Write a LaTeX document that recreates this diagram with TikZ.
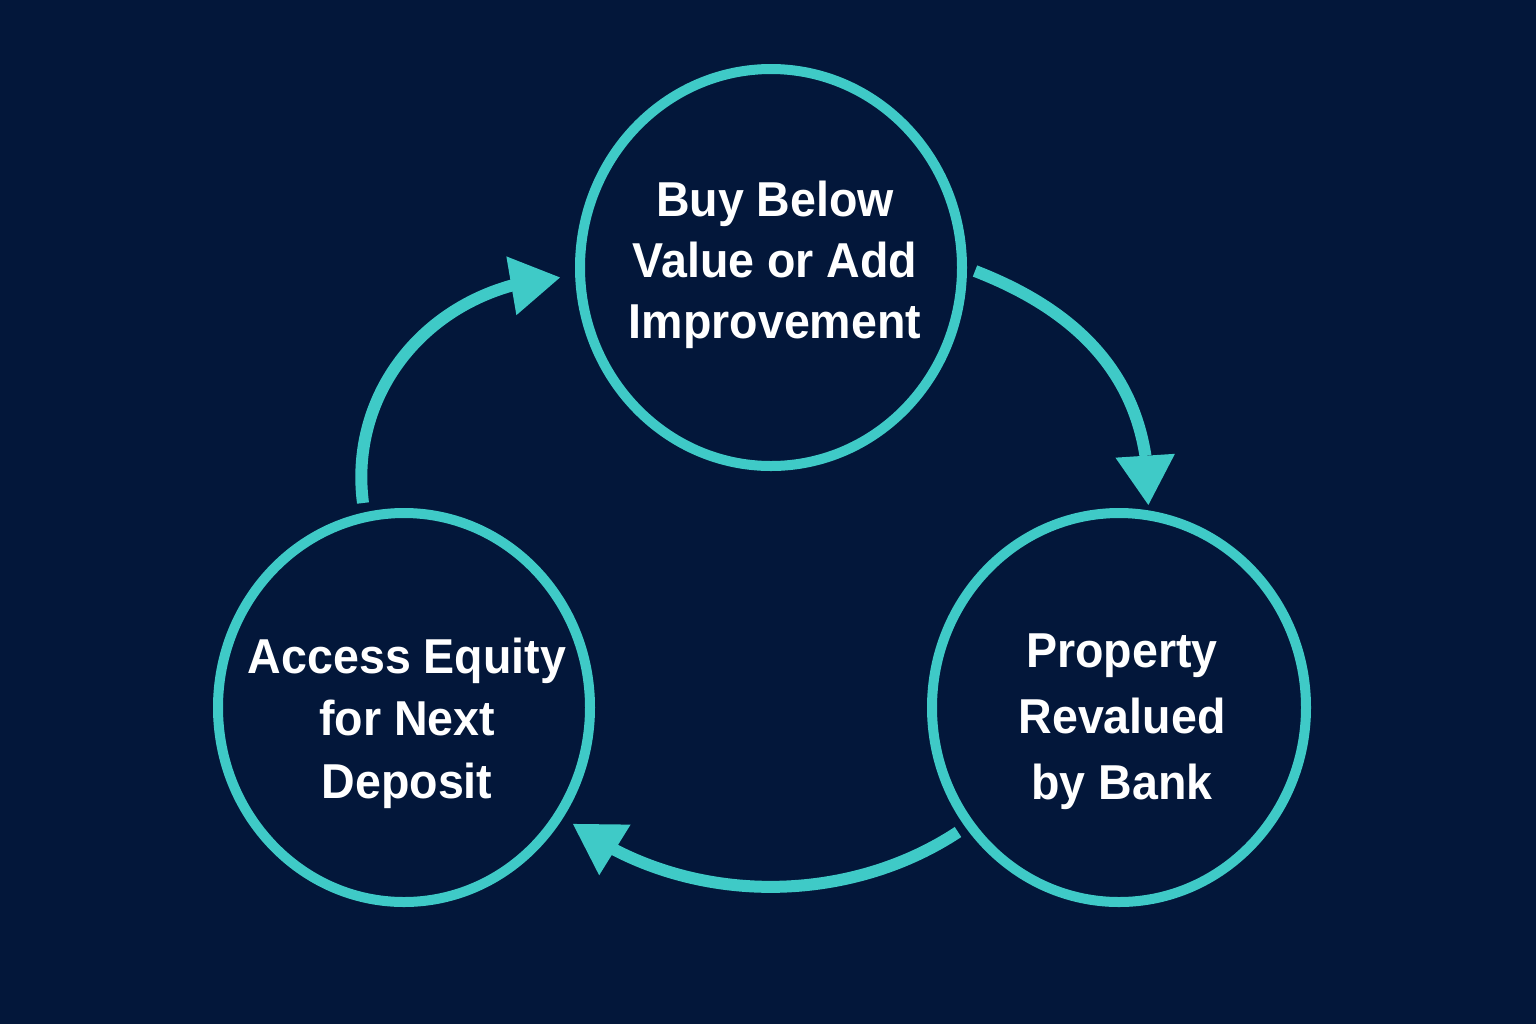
\documentclass[tikz,border=0pt]{standalone}
\usepackage{fontspec}
\setmainfont{Liberation Sans}[FakeStretch=0.95]
\usetikzlibrary{arrows.meta,bending,shapes.geometric,calc}
\definecolor{bgc}{HTML}{03173A}
\definecolor{tealc}{HTML}{3FCAC7}
\begin{document}
\begin{tikzpicture}[x=0.5pt,y=-0.5pt,
  ring/.style={ellipse, draw=tealc, line width=5pt, inner sep=0pt, outer sep=0pt},
  lbl/.style={text=white, align=center, inner sep=0pt},
  flow/.style={draw=tealc, line width=6pt, shorten >=-25pt, -{Triangle[length=25pt,width=28pt]}}]
\fill[bgc] (0,0) rectangle (1536,1024);
\useasboundingbox (0,0) rectangle (1536,1024);
\node[ring, minimum width=191pt, minimum height=198.5pt] (top) at (771,267.5) {};
\node[ring, minimum width=186pt, minimum height=194.5pt] (left) at (404,707.5) {};
\node[ring, minimum width=187pt, minimum height=194.5pt] (right) at (1119,707.5) {};
\node[lbl, font=\bfseries\fontsize{24.5}{30.5}\selectfont] (ttop) at (775,265) {Buy Below\\Value or Add\\Improvement};
\node[lbl, font=\bfseries\fontsize{24.5}{31.25}\selectfont] (tleft) at (407,723) {Access Equity\\for Next\\Deposit};
\node[lbl, font=\bfseries\fontsize{24.5}{33}\selectfont] (tright) at (1122,721.5) {Property\\Revalued\\by Bank};
\coordinate (a1s) at ($(top.center)+(204,3.5)$);
\coordinate (a1e) at ($(right.center)+(26,-254.5)$);
\coordinate (a2s) at ($(right.center)+(-161,124.5)$);
\coordinate (a2e) at ($(left.center)+(211,142.5)$);
\coordinate (a3s) at ($(left.center)+(-41,-204.5)$);
\coordinate (a3e) at ($(top.center)+(-261,18.5)$);
\draw[flow] (a1s) .. controls +(93,36) and +(-15,-89) .. (a1e);
\draw[flow] (a2s) .. controls +(-100,66) and +(107,55) .. (a2e);
\draw[flow] (a3s) .. controls +(-13,-100) and +(-97,28) .. (a3e);
\end{tikzpicture}
\end{document}
